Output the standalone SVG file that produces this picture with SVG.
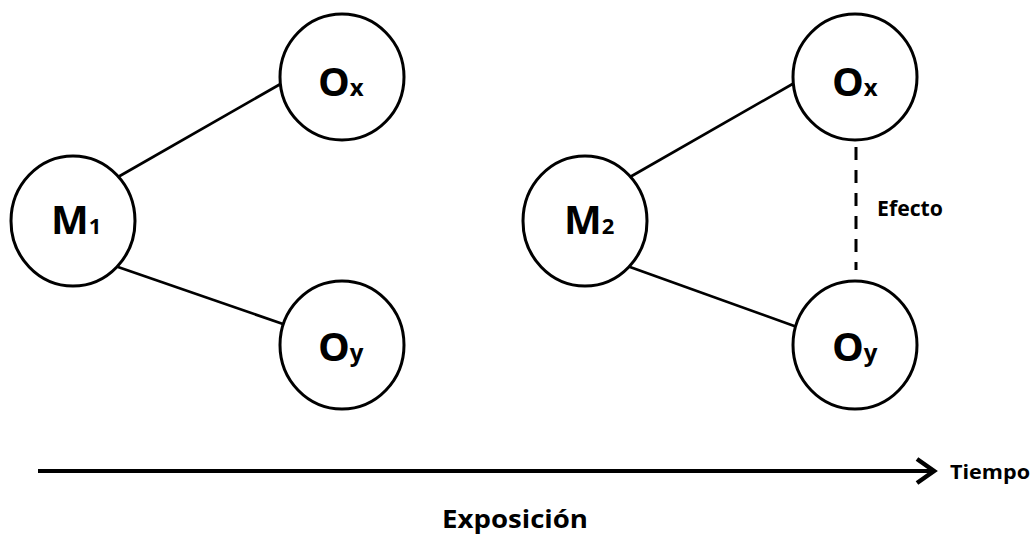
<svg xmlns="http://www.w3.org/2000/svg" width="1033" height="536" viewBox="0 0 1033 536">
<style>
.node{fill:#fff;stroke:#000;stroke-width:3}
.lbl{font-family:"Open Sans","Liberation Sans",sans-serif;font-weight:bold;fill:#000}
.big{font-size:40px}
.sub{font-size:24px}
.num{font-size:22px}
.edge{stroke:#000;stroke-width:2.7;fill:none}
.txt{font-family:"Open Sans","Liberation Sans",sans-serif;font-weight:bold;fill:#000}
</style>
<rect width="1033" height="536" fill="#fff"/>
<g id="connectors">
<line class="edge" x1="118" y1="177" x2="284" y2="82"/>
<line class="edge" x1="118" y1="267" x2="283" y2="324"/>
<line class="edge" x1="630" y1="177" x2="796" y2="82"/>
<line class="edge" x1="630" y1="267" x2="797" y2="327"/>
<line x1="856" y1="147" x2="856" y2="270" stroke="#000" stroke-width="3" stroke-dasharray="13,10"/>
<line x1="38" y1="471" x2="932" y2="471" stroke="#000" stroke-width="4"/>
<polyline points="917,459 934,471 917,483" fill="none" stroke="#000" stroke-width="4.5" stroke-linejoin="miter"/>
</g>
<g id="M1">
<ellipse class="node" cx="73" cy="221" rx="62" ry="65"/>
<text class="lbl" x="51" y="234"><tspan class="big">M</tspan><tspan class="num">1</tspan></text>
</g>
<g id="Ox1">
<ellipse class="node" cx="342" cy="77" rx="62" ry="63"/>
<text class="lbl" x="318" y="96"><tspan class="big">O</tspan><tspan class="sub">x</tspan></text>
</g>
<g id="Oy1">
<ellipse class="node" cx="342" cy="345" rx="62" ry="64"/>
<text class="lbl" x="318" y="361"><tspan class="big">O</tspan><tspan class="sub">y</tspan></text>
</g>
<g id="M2">
<ellipse class="node" cx="585" cy="221" rx="62" ry="65"/>
<text class="lbl" x="564" y="234"><tspan class="big">M</tspan><tspan class="num">2</tspan></text>
</g>
<g id="Ox2">
<ellipse class="node" cx="855" cy="77" rx="62" ry="63"/>
<text class="lbl" x="832" y="96"><tspan class="big">O</tspan><tspan class="sub">x</tspan></text>
</g>
<g id="Oy2">
<ellipse class="node" cx="855" cy="345" rx="62" ry="64"/>
<text class="lbl" x="832" y="361"><tspan class="big">O</tspan><tspan class="sub">y</tspan></text>
</g>
<text class="txt" x="877" y="216" font-size="21" textLength="66" lengthAdjust="spacingAndGlyphs">Efecto</text>
<text class="txt" x="950" y="479" font-size="20" textLength="80" lengthAdjust="spacingAndGlyphs">Tiempo</text>
<text class="txt" x="442" y="528" font-size="25" textLength="146" lengthAdjust="spacingAndGlyphs">Exposición</text>
</svg>
